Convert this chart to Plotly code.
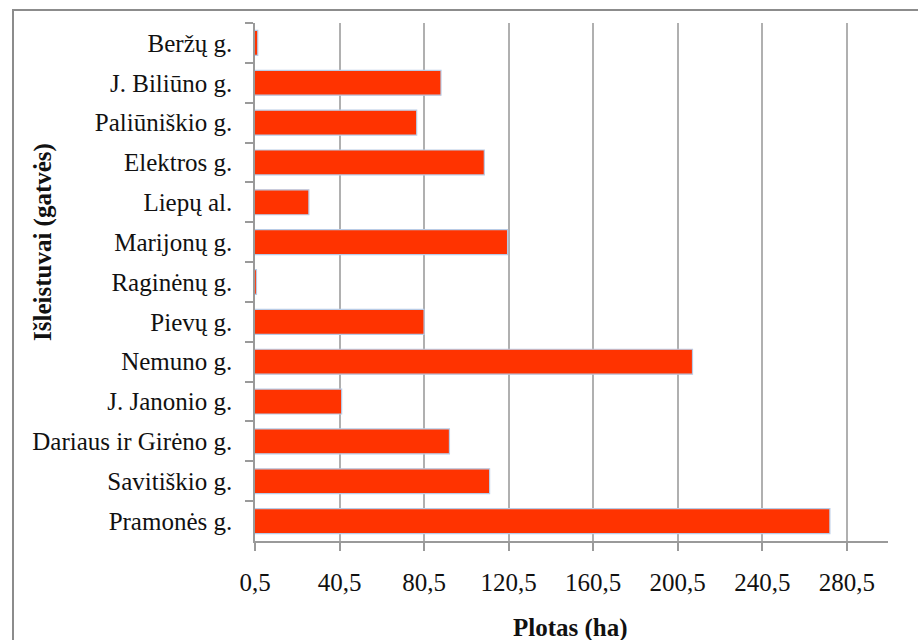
import plotly.graph_objects as go

# Outlet areas by street, listed top to bottom as displayed
streets = [
    "Beržų g.", "J. Biliūno g.", "Paliūniškio g.", "Elektros g.", "Liepų al.",
    "Marijonų g.", "Raginėnų g.", "Pievų g.", "Nemuno g.", "J. Janonio g.",
    "Dariaus ir Girėno g.", "Savitiškio g.", "Pramonės g.",
]
area_ha = [1.8, 88.5, 77.0, 109.0, 26.0, 120.0, 1.2, 80.5, 207.5, 41.5, 92.5, 111.5, 272.5]

x_ticks = [0.5, 40.5, 80.5, 120.5, 160.5, 200.5, 240.5, 280.5]
x_range = [0.5, 300.0]

FONT = "Liberation Serif, Times New Roman, serif"
AXIS_GRAY = "#9a9a9a"

fig = go.Figure(
    go.Bar(
        y=streets,
        x=area_ha,
        orientation="h",
        marker=dict(color="#ff3300", line=dict(color="#b8cbe6", width=1.2)),
        hoverinfo="x+y",
    )
)

W, H = 918, 640
L, R, T, B = 255, 30, 23, 99
pw, ph = W - L - R, H - T - B


def px_to_paper(px, py):
    return (px - L) / pw, 1 - (py - T) / ph


fig.update_layout(
    width=W,
    height=H,
    margin=dict(l=L, r=R, t=T, b=B, pad=0),
    paper_bgcolor="white",
    plot_bgcolor="white",
    separators=", ",
    bargap=0.375,
    showlegend=False,
    font=dict(family=FONT, size=25, color="#111111"),
)

fig.update_xaxes(
    range=x_range,
    tickmode="array",
    tickvals=x_ticks,
    ticktext=[f"{v:.1f}".replace(".", ",") for v in x_ticks],
    showgrid=True,
    gridcolor="#b0b0b0",
    gridwidth=1.5,
    zeroline=False,
    showline=True,
    linecolor=AXIS_GRAY,
    linewidth=1.5,
    ticks="outside",
    ticklen=8,
    tickwidth=1.5,
    tickcolor=AXIS_GRAY,
    ticklabelstandoff=10,
    tickfont=dict(family=FONT, size=25, color="#111111"),
)

fig.update_yaxes(
    autorange="reversed",
    showgrid=False,
    zeroline=False,
    showline=True,
    linecolor=AXIS_GRAY,
    linewidth=1.5,
    ticks="outside",
    tickson="boundaries",
    ticklen=8,
    tickwidth=1.5,
    tickcolor=AXIS_GRAY,
    ticklabelstandoff=16,
    tickfont=dict(family=FONT, size=25, color="#111111"),
)

# Axis titles
tx, ty = px_to_paper(570, 628)
fig.add_annotation(
    text="<b>Plotas (ha)</b>", x=tx, y=ty, xref="paper", yref="paper",
    showarrow=False, xanchor="center", yanchor="middle",
    font=dict(family=FONT, size=25, color="#111111"),
)
yx, yy = px_to_paper(43, 242)
fig.add_annotation(
    text="<b>Išleistuvai (gatvės)</b>", x=yx, y=yy, xref="paper", yref="paper",
    showarrow=False, xanchor="center", yanchor="middle", textangle=-90,
    font=dict(family=FONT, size=25, color="#111111"),
)

# Chart frame (runs off the right and bottom edges of the page)
fx0, fy1 = px_to_paper(13, 10)
fx1, fy0 = px_to_paper(940, 680)
fig.add_shape(
    type="rect", xref="paper", yref="paper",
    x0=fx0, x1=fx1, y0=fy0, y1=fy1,
    line=dict(color="#8c8c8c", width=2), fillcolor="rgba(0,0,0,0)", layer="below",
)

fig.write_html("out.html")
